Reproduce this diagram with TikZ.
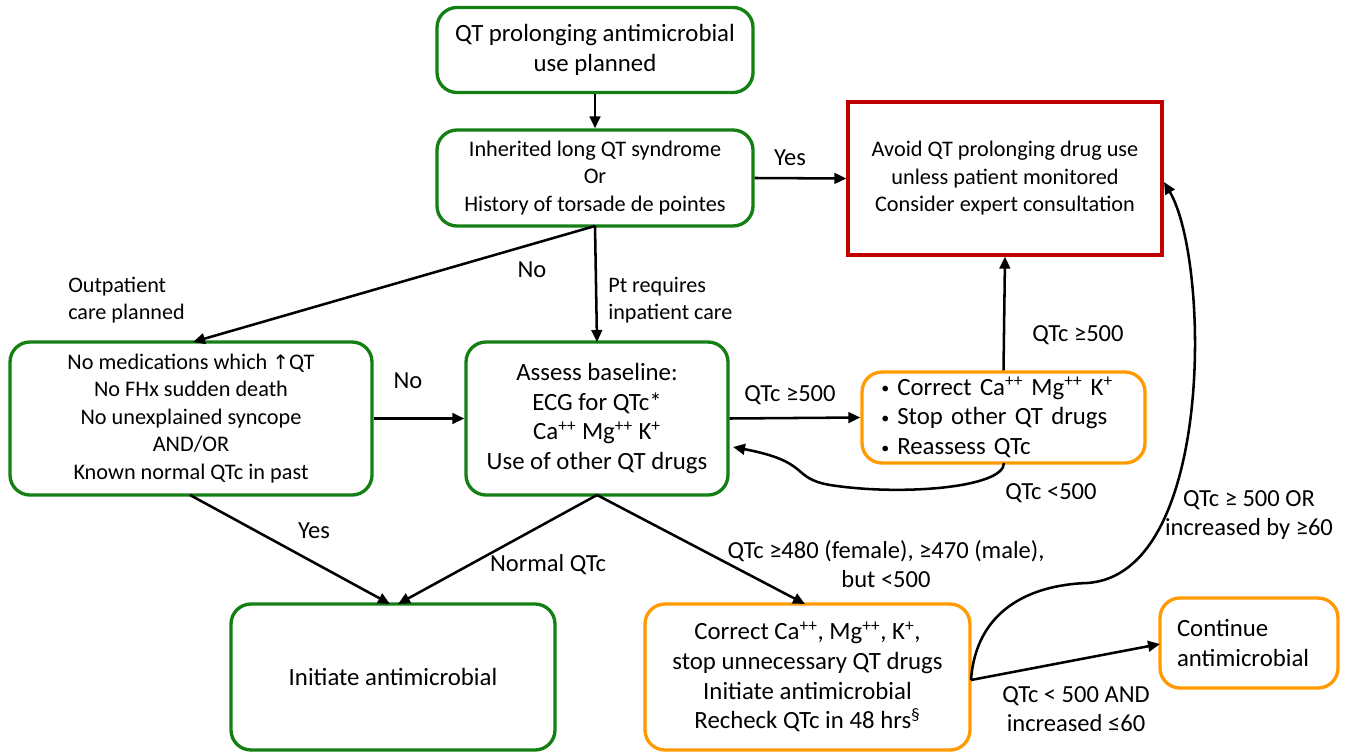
\documentclass[tikz,border=0pt]{standalone}
\usepackage{fontspec}
\setmainfont{Carlito}
\newfontfamily\dvs{DejaVu Sans}
\usetikzlibrary{arrows.meta}
\definecolor{gbox}{RGB}{20,128,20}
\definecolor{obox}{RGB}{255,155,0}
\definecolor{rbox}{RGB}{192,0,0}
\newcommand{\bul}{\makebox[14.5pt][l]{\hspace{2.5pt}\raisebox{1pt}{\fontsize{12pt}{12pt}\selectfont•}}}
\newcommand{\sps}[1]{\textsuperscript{#1}}
\begin{document}
\begin{tikzpicture}[x=0.75pt,y=-0.75pt,
  base/.style={line width=2.5pt,rounded corners=15pt,align=center,inner sep=0pt,fill=white},
  gr/.style={base,draw=gbox},
  og/.style={base,draw=obox},
  rd/.style={line width=2.5pt,draw=rbox,align=center,inner sep=0pt,sharp corners},
  big/.style={font=\fontsize{18.6pt}{22.3pt}\selectfont},
  mid/.style={font=\fontsize{16.7pt}{20.6pt}\selectfont},
  arr/.style={line width=1.9pt,-{Triangle[length=9pt,width=8pt]}},
  lab/.style={font=\fontsize{18.4pt}{21.8pt}\selectfont,align=center,inner sep=0pt},
  labl/.style={font=\fontsize{16.6pt}{20.5pt}\selectfont,align=left,inner sep=0pt}]
\useasboundingbox (0,0) rectangle (1348,752);
\node[gr,big,minimum width=237pt,minimum height=63.75pt] (top) at (595,50) {QT prolonging antimicrobial\\use planned};
\node[gr,mid,minimum width=237pt,minimum height=72pt] (inh) at (595,178) {Inherited long QT syndrome\\Or\\History of torsade de pointes};
\node[rd,mid,minimum width=235.5pt,minimum height=114.75pt] (avoid) at (1005,178.5) {Avoid QT prolonging drug use\\unless patient monitored\\Consider expert consultation};
\node[gr,mid,minimum width=271.5pt,minimum height=114.75pt] (left) at (191,418.5) {No medications which {\dvs\fontsize{15pt}{15pt}\selectfont↑}QT\\No FHx sudden death\\No unexplained syncope\\AND/OR\\Known normal QTc in past};
\node[gr,big,minimum width=196.5pt,minimum height=114.75pt] (assess) at (597,418.5) {Assess baseline:\\ECG for QTc*\\Ca\sps{++} Mg\sps{++} K\sps{+}\\Use of other QT drugs};
\node[og,big,minimum width=212.25pt,minimum height=68.25pt,text width=188.25pt,inner xsep=12pt,align=left] (reas) at (1003.5,417.5) {\bul Correct Ca\sps{++} Mg\sps{++} K\sps{+}\\\bul Stop other QT drugs\\\bul Reassess QTc};
\node[gr,big,minimum width=243pt,minimum height=109.5pt] (init) at (393,677) {Initiate antimicrobial};
\node[og,big,minimum width=243.75pt,minimum height=109.5pt] (corr) at (807.5,677) {Correct Ca\sps{++}, Mg\sps{++}, K\sps{+},\\stop unnecessary QT drugs\\Initiate antimicrobial\\Recheck QTc in 48 hrs\sps{§}};
\node[og,big,minimum width=133.5pt,minimum height=67.5pt,text width=108pt,inner xsep=12.75pt,align=left] (cont) at (1249,643) {Continue\\antimicrobial};
% connector end points
\coordinate (inhB) at (595,226);
\coordinate (leftT) at (193,342);
\coordinate (assT) at (597,342);
\coordinate (assB) at (597,495);
\coordinate (leftB) at (190,495);
\coordinate (initT1) at (390,604);
\coordinate (initT2) at (398,604);
\coordinate (corrT) at (805,604);
\coordinate (corrR) at (971,680);
\coordinate (contL) at (1160,644);
\coordinate (reasB) at (1004,463);
\coordinate (assR2) at (733,447);
\coordinate (avoidR) at (1164,182);
\draw[arr] (top.south) -- (inh.north);
\draw[arr] (inh.east) -- (avoid.west);
\draw[arr] (inhB) -- (leftT);
\draw[arr] (inhB) -- (assT);
\draw[arr] (left.east) -- (assess.west);
\draw[arr] (assess.east) -- (reas.west);
\draw[arr] (reas.north) -- (avoid.south);
\draw[arr] (reasB) .. controls (1004,488) and (900,496) .. (830,485) .. controls (790,478) and (812,462) .. (assR2);
\draw[arr] (leftB) -- (initT1);
\draw[arr] (assB) -- (initT2);
\draw[arr] (assB) -- (corrT);
\draw[arr] (corrR) -- (contL);
\draw[arr] (corrR) .. controls (976,610) and (1030,585) .. (1087,583) .. controls (1215,575) and (1210,260) .. (avoidR);
% labels
\node[lab] (lyes1) at (790,158) {Yes};
\node[lab] (lno1) at (532,270) {No};
\node[labl,anchor=west] (lout) at (68,300) {Outpatient\\care planned};
\node[labl,anchor=west] (lpt) at (608,300) {Pt requires\\inpatient care};
\node[lab] (lno2) at (408,381) {No};
\node[lab] (lq1) at (790,395) {QTc ≥500};
\node[lab] (lq2) at (1078,335) {QTc ≥500};
\node[lab] (lq3) at (1051,493) {QTc <500};
\node[lab] (lyes2) at (314,531) {Yes};
\node[lab] (lnorm) at (548,565) {Normal QTc};
\node[lab] (lq4) at (886,564) {QTc ≥480 (female), ≥470 (male),\\but <500};
\node[lab] (lq5) at (1249,515) {QTc ≥ 500 OR\\increased by ≥60};
\node[lab] (lq6) at (1076,709) {QTc < 500 AND\\increased ≤60};
\end{tikzpicture}
\end{document}
